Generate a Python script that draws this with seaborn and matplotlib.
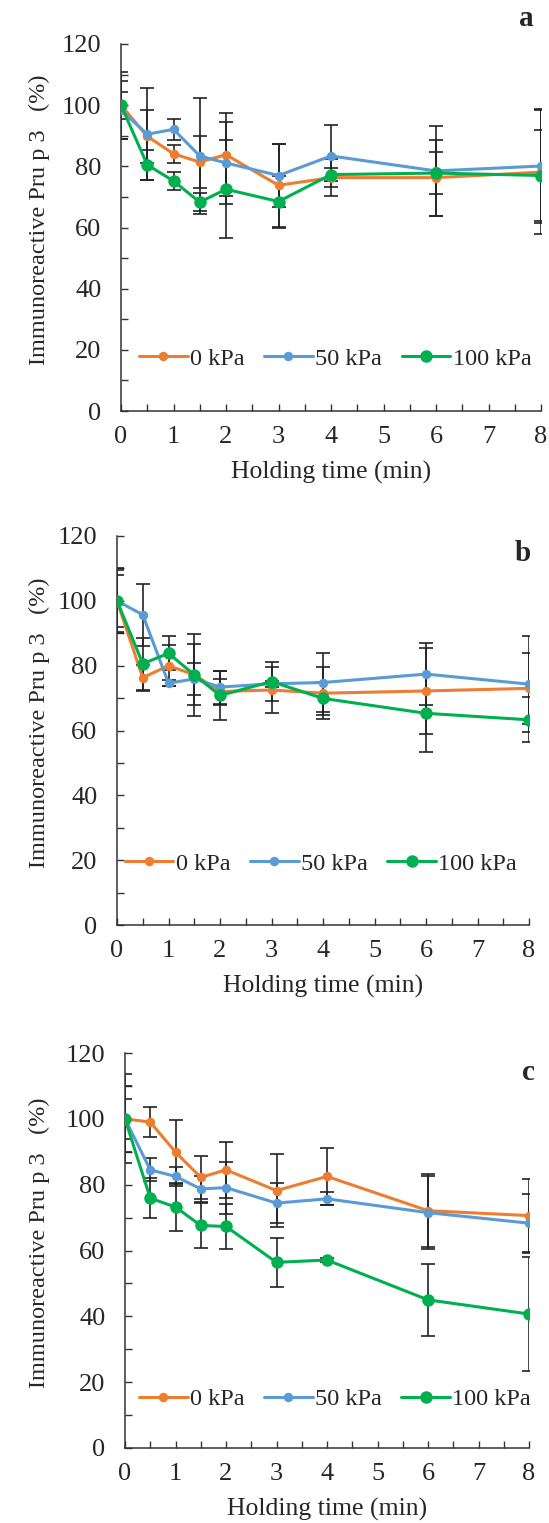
import numpy as np
import pandas as pd
import matplotlib
matplotlib.use("Agg")
import matplotlib.pyplot as plt
import seaborn as sns

# ---------------- data ----------------
times = [0, 0.5, 1, 1.5, 2, 3, 4, 6, 8]
series_names = ["0 kPa", "50 kPa", "100 kPa"]

a_0 = [100, 89.8, 84.1, 81.4, 83.8, 73.8, 76.3, 76.3, 78.1]
a_50 = [98.4, 90.5, 92.1, 83.4, 81.1, 77.0, 83.4, 78.5, 80.1]
a_100 = [100, 80.5, 75.2, 68.3, 72.5, 68.5, 77.3, 77.8, 77.0]
a_0_err = [11, 8.6, 3, 8.4, 13.5, 13.6, 6, 12.4, 20.3]
a_50_err = [9.6, 15, 3.5, 19, 13.4, 10.4, 10, 14.6, 18.5]
a_100_err = [4.4, 5, 3, 3, 16, 8.5, 2, 7, 15]

b_0 = [100, 76.3, 80.0, 77.2, 72.0, 72.5, 71.5, 72.2, 73.0]
b_50 = [100, 95.7, 74.6, 75.9, 73.4, 74.4, 74.8, 77.4, 74.3]
b_100 = [100, 80.6, 83.8, 77.2, 70.8, 75.1, 69.9, 65.3, 63.3]
b_0_err = [9.6, 4, 6.4, 9.4, 4, 7, 8, 13.4, 11]
b_50_err = [8, 9.5, 1, 5, 5.1, 1, 9, 9.5, 14.7]
b_100_err = [10, 8, 5.2, 12.6, 7.5, 6, 5, 11.8, 7]

c_0 = [100, 99.0, 89.9, 82.2, 84.5, 78.2, 82.5, 72.1, 70.6]
c_50 = [100, 84.5, 82.5, 78.7, 79.1, 74.4, 75.7, 71.5, 68.3]
c_100 = [100, 75.9, 73.2, 67.6, 67.3, 56.4, 57.1, 45.0, 40.7]
c_0_err = [13.5, 4.5, 9.8, 6.6, 8.4, 11, 8.6, 11.1, 11]
c_50_err = [10, 3.5, 3, 4, 7.9, 6, 2, 11, 9]
c_100_err = [6, 6.1, 7.2, 6.9, 6.9, 7.5, 0.5, 11, 17.3]

panel_letters = ["a", "b", "c"]
x_ticklabels = ["0", "1", "2", "3", "4", "5", "6", "7", "8"]
y_ticklabels = ["0", "20", "40", "60", "80", "100", "120"]

# ---------------- style ----------------
sns.set_style("ticks")
plt.rcParams["font.family"] = ["Liberation Serif", "DejaVu Serif"]

colors = ["#ED7D31", "#5B9BD5", "#00B050"]
msizes = [6.8, 6.8, 9.0]

fig = plt.figure(figsize=(5.49, 15.23), dpi=100)
H = 1523.0
W = 549.0
# axes boxes in pixels: left, right, top, bottom
boxes = [(121, 541, 44, 411), (117, 529, 536, 925), (125, 529, 1053, 1448)]
legend_pos = [(0.51, 0.143), (0.495, 0.157), (0.52, 0.124)]
letter_pos = [(526, 18), (523, 553), (528, 1072)]

panels = [
    (a_0, a_50, a_100, a_0_err, a_50_err, a_100_err),
    (b_0, b_50, b_100, b_0_err, b_50_err, b_100_err),
    (c_0, c_50, c_100, c_0_err, c_50_err, c_100_err),
]

for i, (box, pdata) in enumerate(zip(boxes, panels)):
    l, r, t, b = box
    ax = fig.add_axes([l / W, (H - b) / H, (r - l) / W, (b - t) / H])
    vals = pdata[:3]
    errs = pdata[3:]
    # error bars first (behind)
    for v, e in zip(vals, errs):
        ax.errorbar(times, v, yerr=e, fmt="none", ecolor="#222222",
                    elinewidth=1.2, capsize=5, capthick=1.2, zorder=1)
    for name, v, c, ms in zip(series_names, vals, colors, msizes):
        df = pd.DataFrame({"t": times, "v": v})
        sns.lineplot(data=df, x="t", y="v", ax=ax, color=c, marker="o",
                     markersize=ms, markeredgewidth=0, linewidth=2.2,
                     label=name, zorder=3)
    ax.set_xlim(0, 8)
    ax.set_ylim(0, 120)
    ax.set_xticks(np.arange(0, 9, 1))
    ax.set_xticklabels(x_ticklabels)
    ax.set_xticks(np.arange(0.5, 8, 1), minor=True)
    ax.set_yticks(np.arange(0, 121, 20))
    ax.set_yticklabels(y_ticklabels)
    ax.set_yticks(np.arange(10, 120, 20), minor=True)
    ax.tick_params(axis="both", which="both", direction="in", length=5,
                   width=1.0, color="#333333")
    ax.tick_params(axis="y", which="major", labelsize=19, pad=14)
    ax.tick_params(axis="x", which="major", labelsize=19, pad=11)
    for s in ["top", "right"]:
        ax.spines[s].set_visible(False)
    for s in ["left", "bottom"]:
        ax.spines[s].set_linewidth(1.1)
        ax.spines[s].set_color("#333333")
    ax.set_xlabel("Holding time (min)", fontsize=18.5, labelpad=9)
    ax.set_ylabel("Immunoreactive Pru p 3   (%)", fontsize=17.5)
    ax.yaxis.set_label_coords(-(l - 50) / (r - l), 0.52)
    ax.legend(loc="center", bbox_to_anchor=legend_pos[i], ncol=3,
              frameon=False, fontsize=17.5, handlelength=2.0,
              handletextpad=0.1, columnspacing=0.8, borderaxespad=0)
    lx, ly = letter_pos[i]
    fig.text(lx / W, 1 - ly / H, panel_letters[i], fontsize=21,
             fontweight="bold", ha="center", va="center")

fig.savefig("out.png", dpi=100)
